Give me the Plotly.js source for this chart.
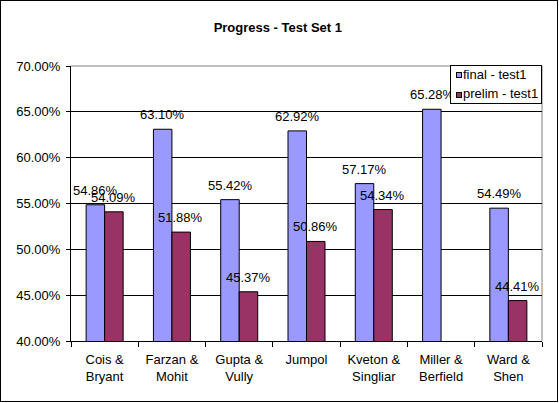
<!DOCTYPE html>
<html>
<head>
<meta charset="utf-8">
<script src="https://cdn.plot.ly/plotly-3.0.1.min.js"></script>
<style>
  html, body { margin: 0; padding: 0; background: #fff; }
  #wrap { position: relative; width: 559px; height: 403px; }
  #chart { position: absolute; left: 0; top: 0; width: 559px; height: 403px; }
  #frame { position: absolute; left: 0; top: 0; width: 558px; height: 402px;
           box-sizing: border-box; border: 1px solid #000; pointer-events: none; }
</style>
</head>
<body>
<div id="wrap">
  <div id="chart"></div>
  <div id="frame"></div>
</div>
<script>
const categories = ["Cois &<br>Bryant", "Farzan &<br>Mohit", "Gupta &<br>Vully", "Jumpol",
                    "Kveton &<br>Singliar", "Miller &<br>Berfield", "Ward &<br>Shen"];
const finalTest1  = [0.5486, 0.6310, 0.5542, 0.6292, 0.5717, 0.6528, 0.5449];
const prelimTest1 = [0.5409, 0.5188, 0.4537, 0.5086, 0.5434, null, 0.4441];
const seriesNames = ["final - test1", "prelim - test1"];
const seriesColors = ["#9999FF", "#993366"];
const yTicks = [0.40, 0.45, 0.50, 0.55, 0.60, 0.65, 0.70];

const FONT = "Liberation Sans, Arial, sans-serif";

const traces = [finalTest1, prelimTest1].map((vals, s) => ({
  type: "bar", name: seriesNames[s], x: categories, y: vals,
  marker: { color: seriesColors[s], line: { color: "#000", width: 1 } },
  hoverinfo: "none", showlegend: false
}));

const annotations = [];
// data labels
[finalTest1, prelimTest1].forEach((vals, s) => {
  vals.forEach((v, i) => {
    if (v === null) return;
    annotations.push({
      x: categories[i], y: v, xref: "x", yref: "y",
      text: (v * 100).toFixed(2) + "%",
      showarrow: false, xanchor: "center", yanchor: "bottom",
      xshift: s === 0 ? -9 : 9, yshift: 5,
      font: { family: FONT, size: 13, color: "#000" }
    });
  });
});
// legend box (drawn after labels so it sits on top, like the original)
annotations.push({
  xref: "paper", yref: "paper", x: 1, y: 1, xanchor: "right", yanchor: "top",
  yshift: 1, text: " ", showarrow: false, width: 90, height: 37,
  bgcolor: "#fff", bordercolor: "#000", borderwidth: 1, borderpad: 0
});
seriesNames.forEach((name, s) => {
  annotations.push({
    xref: "paper", yref: "paper", x: 1, y: 1, xanchor: "center", yanchor: "middle",
    xshift: -83.5, yshift: -9.2 - 19.3 * s, text: " ", showarrow: false,
    width: 4, height: 4, bgcolor: seriesColors[s], bordercolor: "#000",
    borderwidth: 1, borderpad: 0, font: { size: 4 }
  });
  annotations.push({
    xref: "paper", yref: "paper", x: 1, y: 1, xanchor: "left", yanchor: "middle",
    xshift: -79.7, yshift: -8.5 - 19.3 * s, text: name, showarrow: false,
    borderpad: 0, font: { family: FONT, size: 13, color: "#000" }
  });
});

const layout = {
  width: 559, height: 403,
  margin: { l: 71, r: 17, t: 66, b: 62, pad: 0 },
  paper_bgcolor: "rgba(0,0,0,0)",
  plot_bgcolor: "#fff",
  font: { family: FONT, size: 13, color: "#000" },
  title: { text: "<b>Progress - Test Set 1</b>", font: { family: FONT, size: 13, color: "#000" },
           x: 0.497, xref: "container", xanchor: "center",
           y: 0.933, yref: "container", yanchor: "middle" },
  barmode: "group", bargap: 0.45, bargroupgap: 0,
  showlegend: false,
  xaxis: { type: "category", showgrid: false, showline: true, linecolor: "#000", linewidth: 1,
           ticks: "outside", tickson: "boundaries", ticklen: 5, tickcolor: "#000",
           ticklabelstandoff: 6,
           tickfont: { family: FONT, size: 13, color: "#000" }, fixedrange: true },
  yaxis: { range: [0.40, 0.70], tickvals: yTicks, tickformat: ".2%",
           showgrid: true, gridcolor: "#000", gridwidth: 1, zeroline: false,
           showline: true, linecolor: "#000", linewidth: 1,
           ticks: "outside", ticklen: 4, tickcolor: "#000", ticklabelstandoff: 3,
           tickfont: { family: FONT, size: 13, color: "#000" }, fixedrange: true },
  shapes: [
    { type: "line", xref: "paper", yref: "paper", x0: 0, x1: 1, y0: 1, y1: 1,
      line: { color: "#808080", width: 1 }, layer: "above" },
    { type: "line", xref: "paper", yref: "paper", x0: 1, x1: 1, y0: 0, y1: 1,
      line: { color: "#808080", width: 1 }, layer: "below" }
  ],
  annotations: annotations
};

Plotly.newPlot("chart", traces, layout, { displayModeBar: false, staticPlot: true });
</script>
</body>
</html>
